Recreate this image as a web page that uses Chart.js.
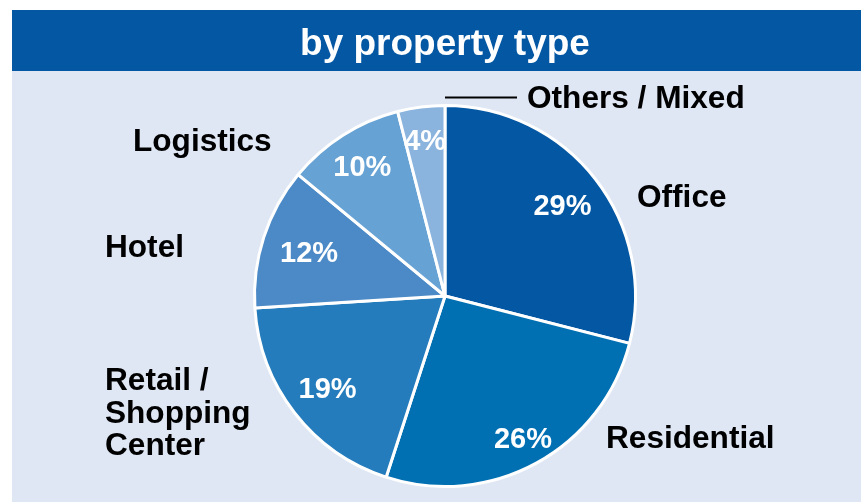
<!DOCTYPE html>
<html>
<head>
<meta charset="utf-8">
<script src="https://cdn.jsdelivr.net/npm/chart.js@4.4.1/dist/chart.umd.min.js"></script>
<style>
  html, body { margin: 0; padding: 0; background: #ffffff; }
  #wrap { position: relative; width: 861px; height: 502px; }
</style>
</head>
<body>
<div id="wrap"><canvas id="c" width="861" height="502"></canvas></div>
<script>
// ---- data ----
const titleText = 'by property type';
const categories = ['Office', 'Residential', 'Retail / Shopping Center', 'Hotel', 'Logistics', 'Others / Mixed'];
const categoryLines = [['Office'], ['Residential'], ['Retail /', 'Shopping', 'Center'], ['Hotel'], ['Logistics'], ['Others / Mixed']];
const shares = [29, 26, 19, 12, 10, 4];

// ---- styles ----
const sliceColors = ['#0457A3', '#0070B3', '#247CBC', '#4B8AC7', '#67A2D4', '#8AB3DD'];
const panelColor = '#DFE7F5';
const barColor = '#0457A3';
const FONT = '"Liberation Sans", Arial, sans-serif';
// label placement relative to pie centre (left x, first baseline y), in px
const labelOffsets = [[192, -89], [161, 152], [-340, 94], [-340, -39], [-312, -145], [82, -188]];
const pctRadius = [0.78, 0.85, 0.78, 0.75, 0.81, 0.83];

const backdrop = {
  id: 'backdrop',
  beforeDraw(chart) {
    const ctx = chart.ctx;
    ctx.save();
    ctx.fillStyle = panelColor;
    ctx.fillRect(12, 71, chart.width - 12, chart.height - 71);
    ctx.fillStyle = barColor;
    ctx.fillRect(12, 10, chart.width - 12, 61);
    ctx.restore();
  }
};

const sliceLabels = {
  id: 'sliceLabels',
  afterDatasetsDraw(chart) {
    const ctx = chart.ctx;
    const meta = chart.getDatasetMeta(0);
    ctx.save();
    meta.data.forEach((arc, i) => {
      const p = arc.getProps(['x', 'y', 'startAngle', 'endAngle', 'outerRadius'], true);
      const mid = (p.startAngle + p.endAngle) / 2;
      const r = p.outerRadius * pctRadius[i];
      ctx.fillStyle = '#ffffff';
      ctx.font = 'bold 29px ' + FONT;
      ctx.textAlign = 'center';
      ctx.textBaseline = 'alphabetic';
      ctx.fillText(chart.data.datasets[0].data[i] + '%', p.x + Math.cos(mid) * r, p.y + Math.sin(mid) * r + 10.5);

      const [dx, dy] = labelOffsets[i];
      ctx.fillStyle = '#000000';
      ctx.font = 'bold 31.6px ' + FONT;
      ctx.textAlign = 'left';
      categoryLines[i].forEach((line, k) => {
        ctx.fillText(line, p.x + dx, p.y + dy + k * 32.5);
      });
      if (i === categories.length - 1) {
        ctx.strokeStyle = '#000000';
        ctx.lineWidth = 2;
        ctx.beginPath();
        ctx.moveTo(p.x, p.y - p.outerRadius - 8);
        ctx.lineTo(p.x + 72, p.y - p.outerRadius - 8);
        ctx.stroke();
      }
    });
    ctx.restore();
  }
};

new Chart(document.getElementById('c'), {
  type: 'pie',
  data: {
    labels: categories,
    datasets: [{
      data: shares,
      backgroundColor: sliceColors,
      borderColor: '#ffffff',
      borderWidth: 3
    }]
  },
  options: {
    responsive: false,
    animation: false,
    layout: { padding: { left: 253, right: 224, top: 0, bottom: 14 } },
    plugins: {
      legend: { display: false },
      tooltip: { enabled: false },
      title: {
        display: true,
        text: titleText,
        color: '#ffffff',
        font: { family: FONT, size: 37, weight: 'bold', lineHeight: 1.2 },
        padding: { top: 23, bottom: 36.6 }
      }
    }
  },
  plugins: [backdrop, sliceLabels]
});
</script>
</body>
</html>
